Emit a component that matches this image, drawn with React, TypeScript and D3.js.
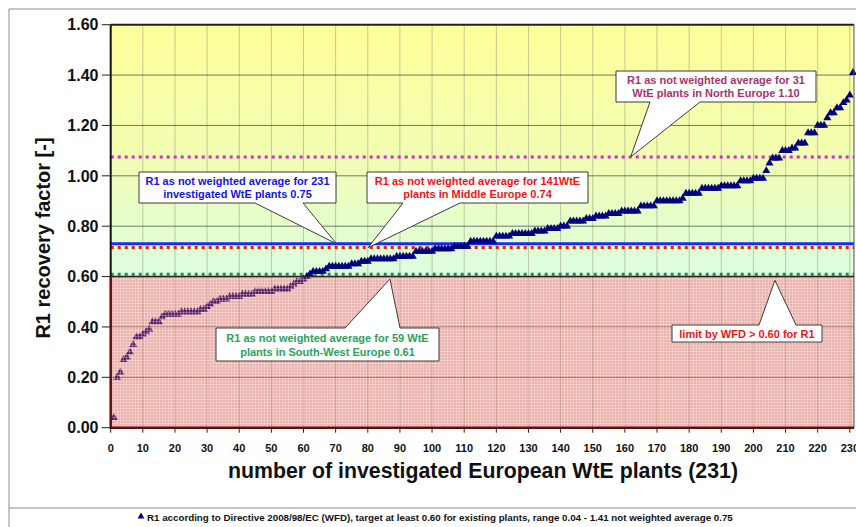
import React from "react";
import * as d3 from "d3";

// R1 recovery factor of each investigated plant, sorted ascending (rank 1..231)
const plantValues: number[] = [
  0.04, 0.20, 0.22, 0.27, 0.28, 0.30, 0.33, 0.36, 0.36, 0.37,
  0.38, 0.39, 0.42, 0.42, 0.42, 0.44, 0.45, 0.45, 0.45, 0.45,
  0.45, 0.46, 0.46, 0.46, 0.46, 0.46, 0.46, 0.47, 0.47, 0.48,
  0.49, 0.50, 0.50, 0.51, 0.51, 0.51, 0.52, 0.52, 0.52, 0.52,
  0.53, 0.53, 0.53, 0.53, 0.54, 0.54, 0.54, 0.54, 0.54, 0.54,
  0.55, 0.55, 0.55, 0.55, 0.55, 0.56, 0.57, 0.58, 0.58, 0.59,
  0.60, 0.61, 0.62, 0.62, 0.62, 0.62, 0.63, 0.64, 0.64, 0.64,
  0.64, 0.64, 0.64, 0.64, 0.65, 0.65, 0.65, 0.66, 0.66, 0.66,
  0.67, 0.67, 0.67, 0.67, 0.67, 0.67, 0.67, 0.67, 0.68, 0.68,
  0.68, 0.68, 0.68, 0.68, 0.70, 0.70, 0.70, 0.70, 0.70, 0.70,
  0.71, 0.71, 0.71, 0.71, 0.71, 0.71, 0.72, 0.72, 0.72, 0.72,
  0.72, 0.74, 0.74, 0.74, 0.74, 0.74, 0.74, 0.74, 0.74, 0.76,
  0.76, 0.76, 0.76, 0.76, 0.77, 0.77, 0.77, 0.77, 0.77, 0.77,
  0.77, 0.78, 0.78, 0.78, 0.78, 0.79, 0.79, 0.79, 0.79, 0.80,
  0.80, 0.80, 0.82, 0.82, 0.82, 0.82, 0.82, 0.83, 0.83, 0.83,
  0.84, 0.84, 0.84, 0.84, 0.85, 0.85, 0.85, 0.85, 0.86, 0.86,
  0.86, 0.86, 0.86, 0.86, 0.88, 0.88, 0.88, 0.88, 0.88, 0.90,
  0.90, 0.90, 0.90, 0.90, 0.90, 0.90, 0.90, 0.91, 0.93, 0.93,
  0.93, 0.93, 0.93, 0.95, 0.95, 0.95, 0.95, 0.95, 0.95, 0.96,
  0.96, 0.96, 0.96, 0.96, 0.96, 0.98, 0.98, 0.98, 0.98, 0.99,
  0.99, 0.99, 0.99, 1.02, 1.05, 1.07, 1.07, 1.07, 1.10, 1.10,
  1.10, 1.11, 1.11, 1.13, 1.13, 1.13, 1.17, 1.17, 1.17, 1.20,
  1.20, 1.20, 1.23, 1.25, 1.25, 1.27, 1.27, 1.29, 1.30, 1.32,
  1.41,
];

const xTickValues: number[] = [0, 10, 20, 30, 40, 50, 60, 70, 80, 90, 100, 110, 120, 130, 140, 150, 160, 170, 180, 190, 200, 210, 220, 230];
const yTickValues: number[] = [0, 0.2, 0.4, 0.6, 0.8, 1.0, 1.2, 1.4, 1.6];

// reference averages as drawn
const northAverage = 1.075;
const allAverage = 0.73;
const middleAverage = 0.715;
const southWestAverage = 0.605;
const wfdLimit = 0.6;

const yTitle = "R1 recovery factor [-]";
const xTitle = "number of investigated European WtE plants (231)";
const legendText = "R1 according to Directive 2008/98/EC (WFD), target at least 0.60 for existing plants, range 0.04 - 1.41 not weighted average 0.75";

const calloutAll = ["R1 as not weighted average for 231", "investigated WtE plants 0.75"];
const calloutMiddle = ["R1 as not weighted average for 141WtE", "plants in Middle Europe 0.74"];
const calloutNorth = ["R1 as not weighted average for 31", "WtE plants in North Europe 1.10"];
const calloutSouth = ["R1 as not weighted average for 59 WtE", "plants in South-West Europe 0.61"];
const calloutLimit = ["limit by WFD > 0.60 for R1"];

const W = 856;
const H = 527;
const FONT = "'Liberation Sans', Arial, Helvetica, sans-serif";

const plotLeft = 110.7;
const plotRight = 854;
const plotTop = 24.7;
const plotBottom = 427.7;

export default function App() {
  const x = d3.scaleLinear().domain([0, 231.3]).range([plotLeft, plotRight]);
  const y = d3.scaleLinear().domain([0, 1.6]).range([plotBottom, plotTop]);
  const tri = d3.symbol().type(d3.symbolTriangle).size(28)() as string;

  type Callout = {
    lines: string[];
    color: string;
    box: [number, number, number, number];
    wedge: [number, number];
    side: "top" | "bottom";
    tip: [number, number]; // data coords
    lineH: number;
  };

  const callouts: Callout[] = [
    { lines: calloutAll, color: "#1414E6", box: [139, 172, 336, 203], wedge: [255, 303], side: "bottom", tip: [70.3, allAverage], lineH: 13.5 },
    { lines: calloutMiddle, color: "#F01414", box: [367, 172, 588, 203], wedge: [403, 460], side: "bottom", tip: [80.1, middleAverage], lineH: 13.5 },
    { lines: calloutNorth, color: "#A8346A", box: [616, 71, 816, 102], wedge: [650, 700], side: "bottom", tip: [161.8, northAverage], lineH: 13.5 },
    { lines: calloutSouth, color: "#2EA060", box: [216, 328, 439, 361], wedge: [345, 400], side: "top", tip: [86.9, 0.59], lineH: 14 },
    { lines: calloutLimit, color: "#F01414", box: [672, 325, 822, 342], wedge: [759, 796], side: "top", tip: [206.7, 0.585], lineH: 13 },
  ];

  const calloutPath = (c: Callout) => {
    const [x0, y0, x1, y1] = c.box;
    const [b0, b1] = c.wedge;
    const tx = x(c.tip[0]);
    const ty = y(c.tip[1]);
    if (c.side === "bottom") {
      return `M${x0},${y0}H${x1}V${y1}H${b1}L${tx},${ty}L${b0},${y1}H${x0}Z`;
    }
    return `M${x0},${y0}H${b0}L${tx},${ty}L${b1},${y0}H${x1}V${y1}H${x0}Z`;
  };

  const y06 = y(wfdLimit);

  return (
    <svg width={W} height={H} style={{ position: "absolute", left: 0, top: 0, background: "#fff" }} fontFamily={FONT}>
      <defs>
        <linearGradient id="upperGrad" x1="0" y1="0" x2="0" y2="1">
          <stop offset="0%" stopColor="#FFFF99" />
          <stop offset="55%" stopColor="#F1FDB4" />
          <stop offset="100%" stopColor="#DCFDE0" />
        </linearGradient>
        <pattern id="mesh" width="3" height="3" patternUnits="userSpaceOnUse">
          <rect width="3" height="3" fill="none" />
          <path d="M0,0.5H3M0.5,0V3" stroke="#ffffff" strokeOpacity="0.28" strokeWidth="1" />
        </pattern>
      </defs>

      {/* chart frame */}
      <path d={`M9,${H}V9H${W}`} fill="none" stroke="#8a8a8a" strokeWidth={1} />
      <line x1={9} x2={W} y1={508} y2={508} stroke="#8a8a8a" strokeWidth={1} />

      {/* plot backgrounds */}
      <rect x={plotLeft} y={plotTop} width={plotRight - plotLeft} height={y06 - plotTop} fill="url(#upperGrad)" />
      <rect x={plotLeft} y={y06} width={plotRight - plotLeft} height={plotBottom - y06} fill="#ffffff" />

      {/* grid */}
      {xTickValues.filter((t) => t > 0).map((t) => (
        <line key={"vg" + t} x1={x(t)} x2={x(t)} y1={plotTop} y2={plotBottom} stroke="#9a9a80" strokeOpacity={0.55} strokeWidth={1} />
      ))}
      {yTickValues.filter((t) => t > 0 && t < 1.6).map((t) => (
        <line key={"hg" + t} x1={plotLeft} x2={plotRight} y1={y(t)} y2={y(t)} stroke="#555" strokeOpacity={0.8} strokeWidth={1} />
      ))}

      {/* reference lines */}
      <line x1={plotLeft} x2={plotRight} y1={y(northAverage)} y2={y(northAverage)} stroke="#E020D8" strokeWidth={3} strokeDasharray="3,4" />
      <line x1={plotLeft} x2={plotRight} y1={y(allAverage)} y2={y(allAverage)} stroke="#1030F0" strokeWidth={3} />
      <line x1={plotLeft} x2={plotRight} y1={y(middleAverage)} y2={y(middleAverage)} stroke="#FF1010" strokeWidth={3} strokeDasharray="3,4" />
      <line x1={plotLeft} x2={plotRight} y1={y(southWestAverage) - 1} y2={y(southWestAverage) - 1} stroke="#1E8A4E" strokeWidth={3} strokeDasharray="3,4" />

      {/* data points */}
      {plantValues.map((v, i) => (
        <path key={"p" + i} d={tri} transform={`translate(${x(i + 1)},${y(v)})`} fill="#000080" />
      ))}

      {/* red zone overlay (below WFD limit) */}
      <rect x={plotLeft} y={y06} width={plotRight - plotLeft} height={plotBottom - y06} fill="#D04A3C" fillOpacity={0.42} />
      <rect x={plotLeft} y={y06} width={plotRight - plotLeft} height={plotBottom - y06} fill="url(#mesh)" />

      {/* plot borders */}
      <line x1={plotLeft} x2={plotRight} y1={plotTop} y2={plotTop} stroke="#222" strokeWidth={2} />
      <line x1={plotLeft} x2={plotLeft} y1={plotTop} y2={y06} stroke="#111" strokeWidth={2} />
      <line x1={plotRight} x2={plotRight} y1={plotTop} y2={plotBottom} stroke="#555" strokeWidth={1} />
      <line x1={plotLeft} x2={plotRight} y1={y06} y2={y06} stroke="#222" strokeWidth={1.5} />
      <path d={`M${plotLeft},${y06}V${plotBottom}H${plotRight}`} fill="none" stroke="#6A0A0A" strokeWidth={2.5} />

      {/* y axis ticks and labels */}
      {yTickValues.map((t) => (
        <g key={"yt" + t}>
          <line x1={plotLeft - 9} x2={plotLeft} y1={y(t)} y2={y(t)} stroke="#222" strokeWidth={1} />
          <text x={98.5} y={y(t) + 5.7} textAnchor="end" fontSize={16} fontWeight="bold" fill="#111">
            {t.toFixed(2)}
          </text>
        </g>
      ))}
      {/* x axis ticks and labels */}
      {xTickValues.map((t) => (
        <g key={"xt" + t}>
          <line x1={x(t)} x2={x(t)} y1={plotBottom} y2={plotBottom + 5} stroke="#222" strokeWidth={1} />
          <text x={x(t)} y={451.7} textAnchor="middle" fontSize={11} fontWeight="bold" fill="#111">
            {t}
          </text>
        </g>
      ))}

      {/* axis titles */}
      <text transform={`translate(49.5,238) rotate(-90)`} textAnchor="middle" fontSize={20} fontWeight="bold" fill="#111">
        {yTitle}
      </text>
      <text x={483} y={478} textAnchor="middle" fontSize={21.3} fontWeight="bold" fill="#111">
        {xTitle}
      </text>

      {/* callouts */}
      {callouts.map((c, k) => {
        const [x0, y0, x1, y1] = c.box;
        const cx = (x0 + x1) / 2;
        const n = c.lines.length;
        const midY = (y0 + y1) / 2;
        return (
          <g key={"c" + k}>
            <path d={calloutPath(c)} fill="#ffffff" stroke="#3a3a3a" strokeWidth={1} />
            {c.lines.map((ln, j) => (
              <text key={j} x={cx} y={midY + (j - (n - 1) / 2) * c.lineH + 4} textAnchor="middle" fontSize={11} fontWeight="bold" fill={c.color}>
                {ln}
              </text>
            ))}
          </g>
        );
      })}

      {/* legend */}
      <path d={tri} transform={`translate(141,516.5) scale(0.85)`} fill="#000080" />
      <text x={147} y={520.5} fontSize={9.75} fontWeight="bold" fill="#111">
        {legendText}
      </text>
    </svg>
  );
}
